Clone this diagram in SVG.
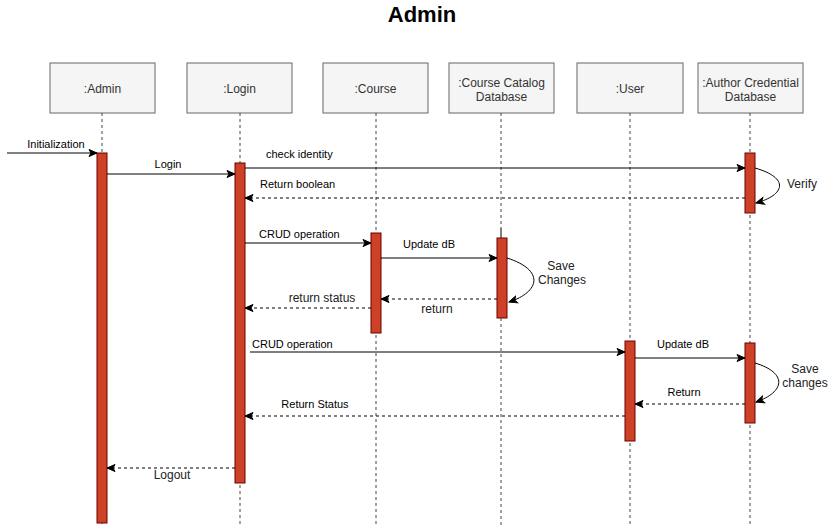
<svg xmlns="http://www.w3.org/2000/svg" width="837" height="525" viewBox="0 0 837 525">
<style>
  .box{fill:#f5f5f5;stroke:#666666;stroke-width:1}
  .bt{font-family:"Liberation Sans",Arial,sans-serif;font-size:12px;fill:#333333;text-anchor:middle}
  .life{stroke:#444444;stroke-width:1;stroke-dasharray:3,3;fill:none}
  .act{fill:#cd4126;stroke:#6f0000;stroke-width:1}
  .msg{stroke:#000000;stroke-width:1;fill:none;marker-end:url(#arr)}
  .ret{stroke:#000000;stroke-width:1;fill:none;stroke-dasharray:3,3;marker-end:url(#arr)}
  .lbl{font-family:"Liberation Sans",Arial,sans-serif;font-size:11px;fill:#000000}
  .big{font-size:12px;fill:#222222}
  .mid{text-anchor:middle}
  .title{font-family:"Liberation Sans",Arial,sans-serif;font-size:22px;font-weight:bold;fill:#000000;text-anchor:middle}
</style>
<defs>
  <marker id="arr" markerUnits="userSpaceOnUse" markerWidth="10" markerHeight="10" viewBox="0 0 10 10" refX="9" refY="5" orient="auto">
    <path d="M1,1.5 L9,5 L1,8.5 L3,5 Z" fill="#000000" stroke="#000000" stroke-width="1"/>
  </marker>
</defs>
<rect width="837" height="525" fill="#ffffff"/>
<text class="title" x="422" y="21.5">Admin</text>

<g id="admin">
  <rect class="box" x="50" y="63" width="105" height="50"/>
  <text class="bt" x="102.5" y="92.5">:Admin</text>
  <line class="life" x1="102" y1="113" x2="102" y2="525"/>
  <rect class="act" x="97" y="153" width="10" height="370"/>
</g>
<g id="login">
  <rect class="box" x="187" y="63" width="105" height="50"/>
  <text class="bt" x="239.5" y="92.5">:Login</text>
  <line class="life" x1="240" y1="113" x2="240" y2="525"/>
  <rect class="act" x="235" y="163" width="10" height="320"/>
</g>
<g id="course">
  <rect class="box" x="323" y="63" width="105" height="50"/>
  <text class="bt" x="375.5" y="92.5">:Course</text>
  <line class="life" x1="376" y1="113" x2="376" y2="525"/>
  <rect class="act" x="371" y="233" width="10" height="100"/>
</g>
<g id="catalog">
  <rect class="box" x="449" y="63" width="105" height="50"/>
  <text class="bt" x="501.5" y="86.5">:Course Catalog</text>
  <text class="bt" x="501.5" y="100.5">Database</text>
  <line class="life" x1="501" y1="113" x2="501" y2="228"/>
  <line x1="501" y1="228" x2="501" y2="238" stroke="#000000" stroke-width="1"/>
  <line class="life" x1="501" y1="318" x2="501" y2="525"/>
  <rect class="act" x="497" y="238" width="10" height="80"/>
</g>
<g id="user">
  <rect class="box" x="577" y="63" width="106" height="50"/>
  <text class="bt" x="630" y="92.5">:User</text>
  <line class="life" x1="630" y1="113" x2="630" y2="525"/>
  <rect class="act" x="625" y="341" width="10" height="100"/>
</g>
<g id="author">
  <rect class="box" x="698" y="63" width="105" height="50"/>
  <text class="bt" x="750.5" y="86.5">:Author Credential</text>
  <text class="bt" x="750.5" y="100.5">Database</text>
  <line class="life" x1="750" y1="113" x2="750" y2="525"/>
  <rect class="act" x="745" y="153" width="10" height="60"/>
  <rect class="act" x="745" y="343" width="10" height="80"/>
</g>

<g id="connectors">
  <line class="msg" x1="7" y1="153" x2="97" y2="153"/>
  <text class="lbl mid" x="56" y="148">Initialization</text>

  <line class="msg" x1="107" y1="174" x2="235" y2="174"/>
  <text class="lbl mid" x="168" y="168">Login</text>

  <line class="msg" x1="245" y1="168" x2="745" y2="168"/>
  <text class="lbl" x="266" y="158">check identity</text>

  <path class="msg" d="M755,168 C790,178 785,195 756,203"/>
  <text class="lbl big mid" x="802" y="187.5">Verify</text>

  <line class="ret" x1="745" y1="198" x2="245" y2="198"/>
  <text class="lbl" x="260" y="188">Return boolean</text>

  <line class="msg" x1="245" y1="243" x2="371" y2="243"/>
  <text class="lbl" x="259" y="238">CRUD operation</text>

  <line class="msg" x1="381" y1="258" x2="497" y2="258"/>
  <text class="lbl mid" x="429" y="248">Update dB</text>

  <path class="msg" d="M507,258 C545,270 540,292 509,302"/>
  <text class="lbl big mid" x="561" y="270">Save</text>
  <text class="lbl big mid" x="562" y="284">Changes</text>

  <line class="ret" x1="497" y1="299" x2="381" y2="299"/>
  <text class="lbl big mid" x="437" y="312.5">return</text>

  <line class="ret" x1="371" y1="308" x2="245" y2="308"/>
  <text class="lbl big mid" x="322" y="302">return status</text>

  <line class="msg" x1="250" y1="352" x2="625" y2="352"/>
  <text class="lbl" x="252" y="348">CRUD operation</text>

  <line class="msg" x1="635" y1="358" x2="745" y2="358"/>
  <text class="lbl mid" x="683" y="348">Update dB</text>

  <path class="msg" d="M755,363 C788,373 785,392 756,402"/>
  <text class="lbl big mid" x="805" y="373">Save</text>
  <text class="lbl big mid" x="805" y="387">changes</text>

  <line class="ret" x1="745" y1="404" x2="635" y2="404"/>
  <text class="lbl mid" x="684" y="396">Return</text>

  <line class="ret" x1="625" y1="416" x2="245" y2="416"/>
  <text class="lbl mid" x="315" y="408">Return Status</text>

  <line class="ret" x1="235" y1="468" x2="107" y2="468"/>
  <text class="lbl big mid" x="172" y="478.5">Logout</text>
</g>
</svg>
